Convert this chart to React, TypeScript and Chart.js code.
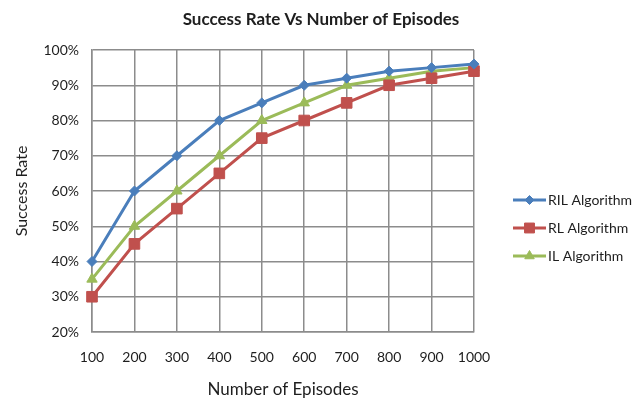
import React, { useEffect, useRef } from "react";
import { Chart, registerables } from "chart.js";
import { drawPoint } from "chart.js/helpers";

Chart.register(...registerables);

const episodes = ["100", "200", "300", "400", "500", "600", "700", "800", "900", "1000"];
const rilAlgorithm = [40, 60, 70, 80, 85, 90, 92, 94, 95, 96];
const rlAlgorithm = [30, 45, 55, 65, 75, 80, 85, 90, 92, 94];
const ilAlgorithm = [35, 50, 60, 70, 80, 85, 90, 92, 94, 95];
const seriesNames = ["RIL Algorithm", "RL Algorithm", "IL Algorithm"];

const FONT = "Lato, 'Open Sans', sans-serif";
const TEXT = "#1e1e1e";
const GRID = "#8c8c8c";

// Title centred over the full canvas, plus a line-and-marker legend on the right.
const decorations = {
  id: "decorations",
  afterDraw(chart: any) {
    const ctx = chart.ctx;
    ctx.save();
    ctx.fillStyle = TEXT;
    ctx.font = `bold 17px ${FONT}`;
    ctx.textAlign = "center";
    ctx.textBaseline = "middle";
    ctx.fillText("Success Rate Vs Number of Episodes", 321, 20);

    const rows = [200, 228, 256];
    chart.data.datasets.forEach((ds: any, i: number) => {
      const y = rows[i];
      ctx.strokeStyle = ds.borderColor;
      ctx.lineWidth = 3;
      ctx.beginPath();
      ctx.moveTo(513, y);
      ctx.lineTo(546, y);
      ctx.stroke();
      ctx.fillStyle = ds.pointBackgroundColor;
      ctx.strokeStyle = ds.pointBorderColor;
      ctx.lineWidth = 1;
      drawPoint(
        ctx,
        { pointStyle: ds.pointStyle, rotation: 0, radius: ds.pointRadius - 0.5, borderWidth: 1 },
        529.5,
        y
      );
      ctx.fillStyle = TEXT;
      ctx.font = `14px ${FONT}`;
      ctx.textAlign = "left";
      ctx.textBaseline = "middle";
      ctx.fillText(ds.label, 548, y);
    });
    ctx.restore();
  },
};

export default function App() {
  const ref = useRef<HTMLCanvasElement | null>(null);

  useEffect(() => {
    if (!ref.current) return;
    const mk = (label: string, data: number[], color: string, style: string, r: number) => ({
      label,
      data,
      borderColor: color,
      backgroundColor: color,
      pointBackgroundColor: color,
      pointBorderColor: color,
      pointStyle: style,
      pointRadius: r,
      borderWidth: 3,
      pointBorderWidth: 1,
      tension: 0,
    });
    const chart = new Chart(ref.current, {
      type: "line",
      data: {
        labels: episodes,
        datasets: [
          mk(seriesNames[0], rilAlgorithm, "#4a7ebb", "rectRot", 5),
          mk(seriesNames[1], rlAlgorithm, "#c0504d", "rect", 7.5),
          mk(seriesNames[2], ilAlgorithm, "#9bbb59", "triangle", 6),
        ],
      },
      options: {
        responsive: false,
        animation: false,
        layout: { padding: { top: 50, right: 168, bottom: 0, left: 0 } },
        plugins: { legend: { display: false }, title: { display: false }, tooltip: { enabled: false } },
        scales: {
          x: {
            type: "category",
            offset: false,
            afterFit: (s: any) => { s.height = 66; },
            grid: { color: GRID, lineWidth: 1.5, drawTicks: false },
            border: { color: GRID, width: 1.5 },
            ticks: { color: TEXT, font: { family: FONT, size: 14 }, padding: 17, maxRotation: 0 },
            title: {
              display: true,
              text: "Number of Episodes",
              color: TEXT,
              font: { family: FONT, size: 17 },
              padding: { top: 0, bottom: -2 },
            },
          },
          y: {
            min: 20,
            max: 100,
            afterFit: (s: any) => { s.width = 92; },
            grid: { color: GRID, lineWidth: 1.5, drawTicks: false },
            border: { color: GRID, width: 1.5 },
            ticks: {
              stepSize: 10,
              color: TEXT,
              font: { family: FONT, size: 14 },
              padding: 13,
              callback: (v: any) => `${v}%`,
            },
            title: {
              display: true,
              text: "Success Rate",
              color: TEXT,
              font: { family: FONT, size: 16 },
              padding: { top: 12, bottom: 0 },
            },
          },
        },
      },
      plugins: [decorations],
    } as any);
    return () => chart.destroy();
  }, []);

  return (
    <div style={{ position: "absolute", left: 0, top: 0, width: 642, height: 398, background: "#fff" }}>
      <canvas ref={ref} width={642} height={398} />
    </div>
  );
}
